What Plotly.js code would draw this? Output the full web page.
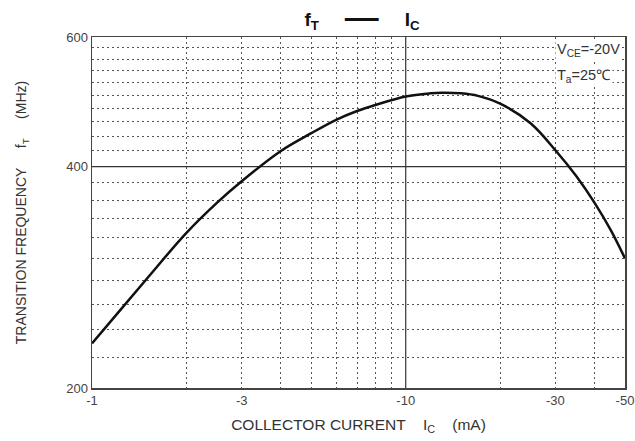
<!DOCTYPE html>
<html>
<head>
<meta charset="utf-8">
<script src="https://cdn.plot.ly/plotly-3.0.1.min.js"></script>
<style>html,body{margin:0;padding:0;background:#fff;}#chart{width:635px;height:441px;}</style>
</head>
<body>
<div id="chart"></div>
<script>
// Collector current magnitude (mA) and transition frequency (MHz)
const collectorCurrent = [1, 1.2, 1.5, 2, 2.5, 3, 4, 5, 6, 7, 8, 10, 12, 13, 15, 17, 20, 25, 30, 35, 40, 45, 50];
const transitionFreq   = [230, 252, 282, 325, 357, 382, 420, 444, 463, 476, 485, 498, 503, 504, 503, 499, 487, 458, 421, 388, 357, 328, 300];

const xTickVals = [1, 3, 10, 30, 50];
const xTickText = ['-1', '-3', '-10', '-30', '-50'];
const xMinorGrid = [2, 3, 4, 5, 6, 7, 8, 9, 20, 30, 40];
const yTickVals = [200, 400, 600];
const yTickText = ['200', '400', '600'];
const yMinorGrid = [220, 240, 260, 280, 300, 320, 340, 360, 380, 420, 440, 460, 480, 500, 520, 540, 560, 580];
const xSolidGrid = [10];
const ySolidGrid = [400];

const trace = {
  x: collectorCurrent,
  y: transitionFreq,
  mode: 'lines',
  line: {color: '#111', width: 2.5, shape: 'spline', smoothing: 1},
  hoverinfo: 'x+y',
  showlegend: false
};

const shapes = [];
xSolidGrid.forEach(v => shapes.push({type: 'line', xref: 'x', yref: 'paper', x0: v, x1: v, y0: 0, y1: 1, line: {color: '#333', width: 1.2}, layer: 'below'}));
ySolidGrid.forEach(v => shapes.push({type: 'line', xref: 'paper', yref: 'y', x0: 0, x1: 1, y0: v, y1: v, line: {color: '#333', width: 1.2}, layer: 'below'}));

const font = 'Liberation Sans, Arial, sans-serif';

const layout = {
  width: 635, height: 441,
  margin: {l: 92, r: 10, t: 37, b: 53},
  paper_bgcolor: '#fff', plot_bgcolor: '#fff',
  font: {family: font, color: '#333'},
  title: {
    text: '<b>f<sub>T</sub></b>     ━━━     <b>I<sub>C</sub></b>',
    font: {family: font, size: 19, color: '#111'},
    x: 0.57, xanchor: 'center', y: 0.955, yanchor: 'middle'
  },
  xaxis: {
    type: 'log',
    range: [Math.log10(1), Math.log10(50)],
    tickmode: 'array', tickvals: xTickVals, ticktext: xTickText,
    showgrid: false, zeroline: false,
    ticks: '', tickfont: {family: font, size: 13, color: '#444'},
    showline: true, mirror: true, linecolor: '#444', linewidth: 1.5,
    minor: {tickmode: 'array', tickvals: xMinorGrid, showgrid: true, gridcolor: '#555', gridwidth: 1, griddash: '2px,3px', ticks: ''},
    title: {text: 'COLLECTOR CURRENT&nbsp;&nbsp;&nbsp;&nbsp;I<sub>C</sub>&nbsp;&nbsp;&nbsp;&nbsp;(mA)', font: {family: font, size: 15.5, color: '#333'}, standoff: 12}
  },
  yaxis: {
    type: 'log',
    range: [Math.log10(200), Math.log10(600)],
    tickmode: 'array', tickvals: yTickVals, ticktext: yTickText,
    showgrid: false, zeroline: false,
    ticks: '', tickfont: {family: font, size: 13, color: '#444'},
    showline: true, mirror: true, linecolor: '#444', linewidth: 1.5,
    minor: {tickmode: 'array', tickvals: yMinorGrid, showgrid: true, gridcolor: '#555', gridwidth: 1, griddash: '2px,3px', ticks: ''},
    title: {text: 'TRANSITION FREQUENCY&nbsp;&nbsp;&nbsp;&nbsp;&nbsp;f<sub>T</sub>&nbsp;&nbsp;&nbsp;&nbsp;&nbsp;(MHz)', font: {family: font, size: 14, color: '#333'}, standoff: 36}
  },
  shapes: shapes,
  annotations: [
    {xref: 'paper', yref: 'paper', x: 1, y: 0.963, xanchor: 'right', yanchor: 'middle', xshift: -3,
     text: 'V<sub>CE</sub>=-20V', showarrow: false, font: {family: font, size: 14.5, color: '#333'}, bgcolor: '#fff'},
    {xref: 'paper', yref: 'paper', x: 1, y: 0.89, xanchor: 'right', yanchor: 'middle', xshift: -12,
     text: 'T<sub>a</sub>=25℃', showarrow: false, font: {family: font, size: 14.5, color: '#333'}, bgcolor: '#fff'}
  ]
};

Plotly.newPlot('chart', [trace], layout, {displayModeBar: false, staticPlot: true});
</script>
</body>
</html>
